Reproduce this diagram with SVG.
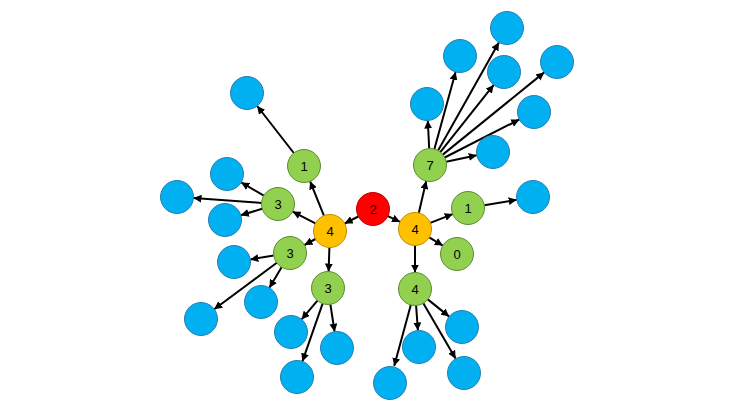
<svg xmlns="http://www.w3.org/2000/svg" width="736" height="414" viewBox="0 0 736 414">
<style>
.b{fill:#00B0F0;stroke:#2A7FB0;stroke-width:1}
.g{fill:#92D050;stroke:#5E8C32;stroke-width:1}
.o{fill:#FFC000;stroke:#BF9000;stroke-width:1}
.r{fill:#FF0000;stroke:#C00000;stroke-width:1}
.t{font-family:"Liberation Sans",Arial,sans-serif;font-size:13px;fill:#000;text-anchor:middle;dominant-baseline:central}
#edges line{stroke:#000;stroke-width:2;marker-end:url(#ah)}
</style>
<defs>
<marker id="ah" markerUnits="userSpaceOnUse" markerWidth="9" markerHeight="8" refX="8" refY="4" orient="auto">
<path d="M0,0 L8,4 L0,8 Z" fill="#000"/>
</marker>
</defs>
<rect width="736" height="414" fill="#fff"/>
<g id="edges">
<line x1="358.3" y1="216.5" x2="344.7" y2="223.5"/>
<line x1="387.9" y1="216.1" x2="400.1" y2="221.9"/>
<line x1="323.9" y1="215.7" x2="310.1" y2="181.3"/>
<line x1="293.8" y1="153.0" x2="257.2" y2="106.0"/>
<line x1="315.4" y1="223.4" x2="292.6" y2="211.6"/>
<line x1="263.8" y1="195.6" x2="241.2" y2="182.4"/>
<line x1="261.5" y1="202.9" x2="193.5" y2="198.1"/>
<line x1="262.2" y1="208.8" x2="240.8" y2="215.2"/>
<line x1="315.5" y1="239.0" x2="304.5" y2="245.0"/>
<line x1="273.7" y1="255.6" x2="250.3" y2="259.4"/>
<line x1="281.6" y1="267.2" x2="269.4" y2="287.8"/>
<line x1="276.8" y1="262.8" x2="214.2" y2="309.2"/>
<line x1="329.4" y1="247.5" x2="328.6" y2="271.5"/>
<line x1="317.4" y1="300.6" x2="301.6" y2="319.4"/>
<line x1="330.4" y1="304.3" x2="334.6" y2="331.7"/>
<line x1="322.6" y1="303.6" x2="302.4" y2="361.4"/>
<line x1="418.8" y1="212.9" x2="426.2" y2="181.1"/>
<line x1="438.1" y1="150.6" x2="498.9" y2="42.4"/>
<line x1="434.4" y1="149.1" x2="455.6" y2="71.9"/>
<line x1="440.3" y1="152.1" x2="493.7" y2="84.9"/>
<line x1="442.8" y1="154.6" x2="544.2" y2="72.4"/>
<line x1="429.2" y1="148.5" x2="427.8" y2="120.5"/>
<line x1="444.7" y1="157.5" x2="519.3" y2="119.5"/>
<line x1="446.2" y1="161.7" x2="476.8" y2="155.3"/>
<line x1="430.3" y1="222.9" x2="452.7" y2="214.1"/>
<line x1="484.3" y1="205.2" x2="516.7" y2="199.8"/>
<line x1="429.2" y1="237.4" x2="442.8" y2="245.6"/>
<line x1="415" y1="245.5" x2="415" y2="272.5"/>
<line x1="427.8" y1="299.4" x2="449.2" y2="316.6"/>
<line x1="416.1" y1="305.5" x2="417.9" y2="330.5"/>
<line x1="423.3" y1="303.3" x2="455.7" y2="358.7"/>
<line x1="410.8" y1="304.9" x2="394.2" y2="366.1"/>
</g>
<g id="root"><circle class="r" cx="373" cy="209" r="16.5"/><text class="t" x="373" y="209">2</text></g>
<g id="L4"><circle class="o" cx="330" cy="231" r="16.5"/><text class="t" x="330" y="231">4</text></g>
<g id="R4"><circle class="o" cx="415" cy="229" r="16.5"/><text class="t" x="415" y="229">4</text></g>
<g id="G1L"><circle class="g" cx="304" cy="166" r="16.5"/><text class="t" x="304" y="166">1</text></g>
<g id="G3a"><circle class="g" cx="278" cy="204" r="16.5"/><text class="t" x="278" y="204">3</text></g>
<g id="G3b"><circle class="g" cx="290" cy="253" r="16.5"/><text class="t" x="290" y="253">3</text></g>
<g id="G3c"><circle class="g" cx="328" cy="288" r="16.5"/><text class="t" x="328" y="288">3</text></g>
<g id="G7"><circle class="g" cx="430" cy="165" r="16.5"/><text class="t" x="430" y="165">7</text></g>
<g id="G1R"><circle class="g" cx="468" cy="208" r="16.5"/><text class="t" x="468" y="208">1</text></g>
<g id="G0"><circle class="g" cx="457" cy="254" r="16.5"/><text class="t" x="457" y="254">0</text></g>
<g id="G4"><circle class="g" cx="415" cy="289" r="16.5"/><text class="t" x="415" y="289">4</text></g>
<g id="B1"><circle class="b" cx="247" cy="93" r="16.5"/></g>
<g id="B2"><circle class="b" cx="227" cy="174" r="16.5"/></g>
<g id="B3"><circle class="b" cx="177" cy="197" r="16.5"/></g>
<g id="B4"><circle class="b" cx="225" cy="220" r="16.5"/></g>
<g id="B5"><circle class="b" cx="234" cy="262" r="16.5"/></g>
<g id="B6"><circle class="b" cx="261" cy="302" r="16.5"/></g>
<g id="B7"><circle class="b" cx="201" cy="319" r="16.5"/></g>
<g id="B8"><circle class="b" cx="291" cy="332" r="16.5"/></g>
<g id="B9"><circle class="b" cx="337" cy="348" r="16.5"/></g>
<g id="B10"><circle class="b" cx="297" cy="377" r="16.5"/></g>
<g id="B11"><circle class="b" cx="507" cy="28" r="16.5"/></g>
<g id="B12"><circle class="b" cx="460" cy="56" r="16.5"/></g>
<g id="B13"><circle class="b" cx="504" cy="72" r="16.5"/></g>
<g id="B14"><circle class="b" cx="557" cy="62" r="16.5"/></g>
<g id="B15"><circle class="b" cx="427" cy="104" r="16.5"/></g>
<g id="B16"><circle class="b" cx="534" cy="112" r="16.5"/></g>
<g id="B17"><circle class="b" cx="493" cy="152" r="16.5"/></g>
<g id="B18"><circle class="b" cx="533" cy="197" r="16.5"/></g>
<g id="B19"><circle class="b" cx="462" cy="327" r="16.5"/></g>
<g id="B20"><circle class="b" cx="419" cy="347" r="16.5"/></g>
<g id="B21"><circle class="b" cx="464" cy="373" r="16.5"/></g>
<g id="B22"><circle class="b" cx="390" cy="383" r="16.5"/></g>
</svg>
